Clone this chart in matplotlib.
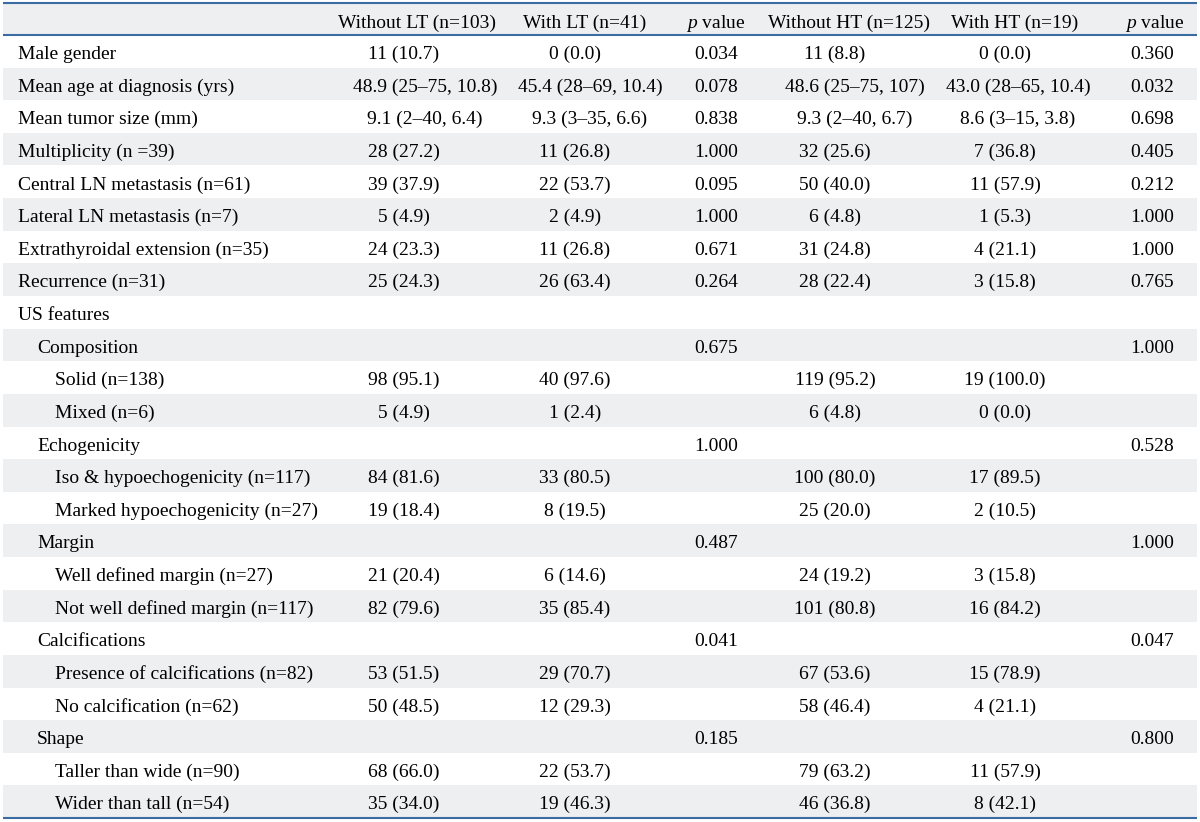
import matplotlib
matplotlib.use("Agg")
import matplotlib.pyplot as plt

plt.rcParams['font.family'] = ['Liberation Serif', 'DejaVu Serif']
plt.rcParams['mathtext.fontset'] = 'custom'
plt.rcParams['mathtext.rm'] = 'Liberation Serif'
plt.rcParams['mathtext.it'] = 'Liberation Serif:italic'

# ---------------- data ----------------
headers = ["Without LT (n=103)", "With LT (n=41)", "$p$ value",
           "Without HT (n=125)", "With HT (n=19)", "$p$ value"]

labels = ["Male gender", "Mean age at diagnosis (yrs)", "Mean tumor size (mm)",
          "Multiplicity (n =39)", "Central LN metastasis (n=61)",
          "Lateral LN metastasis (n=7)", "Extrathyroidal extension (n=35)",
          "Recurrence (n=31)", "US features", "Composition", "Solid (n=138)",
          "Mixed (n=6)", "Echogenicity", "Iso & hypoechogenicity (n=117)",
          "Marked hypoechogenicity (n=27)", "Margin", "Well defined margin (n=27)",
          "Not well defined margin (n=117)", "Calcifications",
          "Presence of calcifications (n=82)", "No calcification (n=62)", "Shape",
          "Taller than wide (n=90)", "Wider than tall (n=54)"]

indent = [0, 0, 0, 0, 0, 0, 0, 0, 0, 1, 2, 2, 1, 2, 2, 1, 2, 2, 1, 2, 2, 1, 2, 2]

without_lt = ["11 (10.7)", "48.9 (25\u201375, 10.8)", "9.1 (2\u201340, 6.4)", "28 (27.2)",
              "39 (37.9)", "5 (4.9)", "24 (23.3)", "25 (24.3)", "", "", "98 (95.1)",
              "5 (4.9)", "", "84 (81.6)", "19 (18.4)", "", "21 (20.4)", "82 (79.6)",
              "", "53 (51.5)", "50 (48.5)", "", "68 (66.0)", "35 (34.0)"]
with_lt = ["0 (0.0)", "45.4 (28\u201369, 10.4)", "9.3 (3\u201335, 6.6)", "11 (26.8)",
           "22 (53.7)", "2 (4.9)", "11 (26.8)", "26 (63.4)", "", "", "40 (97.6)",
           "1 (2.4)", "", "33 (80.5)", "8 (19.5)", "", "6 (14.6)", "35 (85.4)",
           "", "29 (70.7)", "12 (29.3)", "", "22 (53.7)", "19 (46.3)"]
p_lt = ["0.034", "0.078", "0.838", "1.000", "0.095", "1.000", "0.671", "0.264",
        "", "0.675", "", "", "1.000", "", "", "0.487", "", "", "0.041", "", "",
        "0.185", "", ""]
without_ht = ["11 (8.8)", "48.6 (25\u201375, 107)", "9.3 (2\u201340, 6.7)", "32 (25.6)",
              "50 (40.0)", "6 (4.8)", "31 (24.8)", "28 (22.4)", "", "", "119 (95.2)",
              "6 (4.8)", "", "100 (80.0)", "25 (20.0)", "", "24 (19.2)", "101 (80.8)",
              "", "67 (53.6)", "58 (46.4)", "", "79 (63.2)", "46 (36.8)"]
with_ht = ["0 (0.0)", "43.0 (28\u201365, 10.4)", "8.6 (3\u201315, 3.8)", "7 (36.8)",
           "11 (57.9)", "1 (5.3)", "4 (21.1)", "3 (15.8)", "", "", "19 (100.0)",
           "0 (0.0)", "", "17 (89.5)", "2 (10.5)", "", "3 (15.8)", "16 (84.2)",
           "", "15 (78.9)", "4 (21.1)", "", "11 (57.9)", "8 (42.1)"]
p_ht = ["0.360", "0.032", "0.698", "0.405", "0.212", "1.000", "1.000", "0.765",
        "", "1.000", "", "", "0.528", "", "", "1.000", "", "", "0.047", "", "",
        "0.800", "", ""]

columns = [without_lt, with_lt, p_lt, without_ht, with_ht, p_ht]

# ---------------- layout (pixels) ----------------
W, H = 1200, 822
fig = plt.figure(figsize=(W / 100, H / 100), dpi=100)
ax = fig.add_axes([0, 0, 1, 1])
ax.set_xlim(0, W)
ax.set_ylim(H, 0)
ax.axis('off')

line_color = '#3a6ca3'
gray = '#eeeff0'
fs = 14.0
x0, x1 = 3, 1197
header_top, header_bot = 4, 35
row_h = (818 - header_bot) / len(labels)

head_cx = [417, 585, 716, 849, 1015, 1155]
short_cx = [404, 575, 716, 835, 1005, 1152]
long_cx = [425, 590, 716, 855, 1018, 1152]
label_x = [18, 37, 55]

# header background
ax.add_patch(plt.Rectangle((x0, header_top), x1 - x0, header_bot - header_top,
                           facecolor=gray, edgecolor='none', zorder=0))
for j, h in enumerate(headers):
    ax.text(head_cx[j], header_top + 23.5, h, ha='center', va='baseline', fontsize=fs)

for i, lab in enumerate(labels):
    top = header_bot + i * row_h
    if i % 2 == 1:
        ax.add_patch(plt.Rectangle((x0, top), x1 - x0, row_h,
                                   facecolor=gray, edgecolor='none', zorder=0))
    yb = top + 24.0
    ax.text(label_x[indent[i]], yb, lab, ha='left', va='baseline', fontsize=fs)
    for j, col in enumerate(columns):
        s = col[i]
        if not s:
            continue
        cx = long_cx[j] if ',' in s else short_cx[j]
        ax.text(cx, yb, s, ha='center', va='baseline', fontsize=fs)

for y in (3.5, header_bot, 818):
    ax.plot([x0, x1], [y, y], color=line_color, lw=1.5, solid_capstyle='butt')

fig.savefig('out.png', dpi=100)
